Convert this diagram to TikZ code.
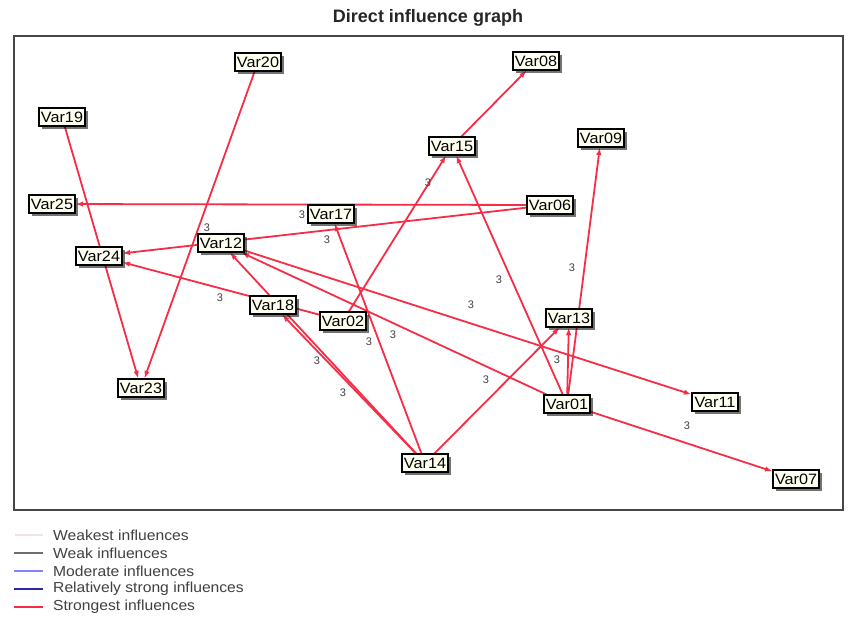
\documentclass[tikz,border=0pt]{standalone}
\usepackage{fontspec}
\setmainfont{Liberation Sans}
\newfontfamily\widesans[FakeStretch=1.08]{Liberation Sans}
\usetikzlibrary{arrows.meta,shadows}

\definecolor{strongred}{RGB}{245,45,70}
\definecolor{boxfill}{RGB}{255,255,242}
\definecolor{framegray}{RGB}{70,70,70}
\definecolor{weakestcol}{RGB}{238,228,230}
\definecolor{weakcol}{RGB}{110,110,110}
\definecolor{moderatecol}{RGB}{130,130,250}
\definecolor{relstrongcol}{RGB}{40,40,170}

\pgfdeclarelayer{edges}
\pgfsetlayers{edges,main}

\tikzset{
  var/.style={draw=black, line width=1.2pt, fill=boxfill,
    font=\widesans\fontsize{15}{16}\selectfont,
    minimum width=46pt, minimum height=18pt, inner sep=1pt,
    drop shadow={shadow xshift=2.5pt, shadow yshift=-2.5pt, fill=black, opacity=0.55}},
  infl/.style={draw=strongred, line width=1.8pt, -{Latex[length=7.5pt,width=5.5pt]}},
  wt/.style={font=\fontsize{11}{12}\selectfont, text=black!75, inner sep=0pt},
  legline/.style={line width=1.3pt},
  legtext/.style={anchor=west, font=\widesans\fontsize{14.5}{15.5}\selectfont, text=black!75, inner sep=0pt},
}

\begin{document}
\begin{tikzpicture}[x=1pt,y=-1pt]
\useasboundingbox (0,0) rectangle (850,630);

% title and frame
\node[font=\bfseries\fontsize{18}{20}\selectfont, text=black!85] (title) at (428,18) {Direct influence graph};
\draw[line width=1.4pt, draw=framegray] (14,36) rectangle (843,510);

% variables
\node[var] (v20) at (258,62)  {Var20};
\node[var] (v08) at (536,61)  {Var08};
\node[var] (v19) at (62,117)  {Var19};
\node[var] (v15) at (452,146) {Var15};
\node[var] (v09) at (601,138) {Var09};
\node[var] (v25) at (52,204)  {Var25};
\node[var] (v06) at (550,205) {Var06};
\node[var] (v17) at (331,214) {Var17};
\node[var] (v12) at (221,243) {Var12};
\node[var] (v24) at (99,256)  {Var24};
\node[var] (v18) at (273,305) {Var18};
\node[var] (v02) at (343,321) {Var02};
\node[var] (v13) at (569,318) {Var13};
\node[var] (v23) at (141,388) {Var23};
\node[var] (v01) at (567,404) {Var01};
\node[var] (v11) at (715,402) {Var11};
\node[var] (v14) at (425,463) {Var14};
\node[var] (v07) at (796,479) {Var07};

% influences (drawn beneath the boxes)
\begin{pgfonlayer}{edges}
\draw[infl] (v20) -- (v23);
\draw[infl] (v19) -- (v23);
\draw[infl] (v06) -- (v25);
\draw[infl] (v06) -- (v24);
\draw[infl] (v15) -- (v08);
\draw[infl] (v01) -- (v09);
\draw[infl] (v01) -- (v13);
\draw[infl] (v01) -- (v15);
\draw[infl] (v02) -- (v15);
\draw[infl] (v14) -- (v13);
\draw[infl] (v14) -- (v17);
\draw[infl] (v14) -- (v18);
\draw[infl] (v14) -- (v12);
\draw[infl] (v01) -- (v12);
\draw[infl] (v12) -- (v11);
\draw[infl] (v01) -- (v07);
\draw[infl] (v02) -- (v24);
\end{pgfonlayer}

% influence weights
\node[wt] (w1)  at (207,228) {3};
\node[wt] (w2)  at (302,215) {3};
\node[wt] (w3)  at (327,240) {3};
\node[wt] (w4)  at (428,183) {3};
\node[wt] (w5)  at (220,298) {3};
\node[wt] (w6)  at (499,280) {3};
\node[wt] (w7)  at (572,268) {3};
\node[wt] (w8)  at (471,305) {3};
\node[wt] (w9)  at (369,342) {3};
\node[wt] (w10) at (393,335) {3};
\node[wt] (w11) at (317,361) {3};
\node[wt] (w12) at (343,393) {3};
\node[wt] (w13) at (486,380) {3};
\node[wt] (w14) at (557,360) {3};
\node[wt] (w15) at (687,426) {3};

% legend
\draw[legline, draw=weakestcol]   (15,535) -- (43,535);
\draw[legline, draw=weakcol]      (14,553) -- (43,553);
\draw[legline, draw=moderatecol]  (14,571) -- (43,571);
\draw[legline, line width=2pt, draw=relstrongcol] (14,589) -- (43,589);
\draw[legline, line width=2pt, draw=strongred]    (14,607) -- (43,607);
\node[legtext] (k1) at (53,535) {Weakest influences};
\node[legtext] (k2) at (53,553) {Weak influences};
\node[legtext] (k3) at (53,571) {Moderate influences};
\node[legtext] (k4) at (53,589) {Relatively strong influences};
\node[legtext] (k5) at (53,607) {Strongest influences};
\end{tikzpicture}
\end{document}
